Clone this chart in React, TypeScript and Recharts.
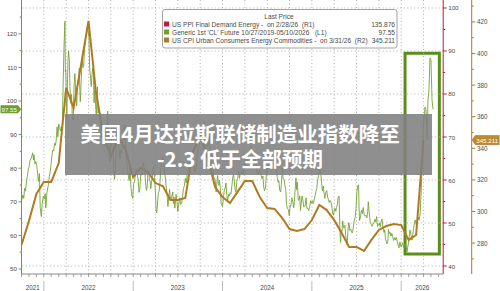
import React from 'react';
import { LineChart, Line, XAxis, YAxis, ReferenceLine, ReferenceArea } from 'recharts';

const OIL_COLOR = '#6f9d2d';
const CPI_COLOR = '#b07a22';
const PPI_COLOR = '#c4173f';
const BOX_COLOR = '#5b8d1b';
const GRID_COLOR = '#b0b0b0';
const TEXT_COLOR = '#4a4a4a';
const FONT = '"Liberation Sans", Arial, sans-serif';

// Generic 1st 'CL' Future (L1): [time in years, price]
const OIL: [number, number][] = [
  [2021.75, 70.2], [2021.765, 72.0], [2021.775, 71.0], [2021.785, 74.0], [2021.795, 73.2], [2021.805, 75.9],
  [2021.815, 77.5], [2021.825, 79.4], [2021.835, 80.5], [2021.845, 82.3], [2021.86, 83.0], [2021.875, 84.6],
  [2021.885, 82.5], [2021.89, 84.0], [2021.9, 81.3], [2021.91, 82.0], [2021.92, 80.8], [2021.93, 78.4],
  [2021.94, 76.1], [2021.95, 78.4], [2021.96, 68.2], [2021.972, 65.6], [2021.982, 69.5], [2021.995, 71.7],
  [2022.005, 70.9], [2022.015, 72.4], [2022.022, 68.2], [2022.035, 72.8], [2022.052, 75.2], [2022.061, 77.5],
  [2022.071, 78.9], [2022.081, 81.2], [2022.091, 83.8], [2022.1, 85.4], [2022.11, 85.1], [2022.12, 87.4],
  [2022.129, 86.8], [2022.138, 88.2], [2022.148, 92.3], [2022.157, 89.4], [2022.167, 93.1], [2022.177, 92.1],
  [2022.187, 91.1], [2022.196, 92.4], [2022.206, 91.6], [2022.215, 103.4], [2022.225, 115.7], [2022.236, 123.7],
  [2022.241, 108.7], [2022.245, 109.3], [2022.252, 100.6], [2022.258, 95.0], [2022.264, 104.9], [2022.27, 111.8],
  [2022.277, 114.9], [2022.285, 112.3], [2022.292, 104.3], [2022.302, 99.3], [2022.31, 101.9], [2022.318, 96.2],
  [2022.329, 94.3], [2022.338, 104.3], [2022.348, 108.2], [2022.357, 102.1], [2022.367, 98.5], [2022.377, 104.7],
  [2022.387, 105.4], [2022.397, 109.8], [2022.403, 103.1], [2022.408, 99.8], [2022.418, 105.7], [2022.428, 112.4],
  [2022.437, 109.9], [2022.445, 110.3], [2022.455, 115.1], [2022.465, 118.5], [2022.475, 119.4], [2022.488, 122.1],
  [2022.497, 120.7], [2022.505, 118.9], [2022.513, 109.6], [2022.521, 107.6], [2022.53, 104.3], [2022.545, 109.8],
  [2022.555, 108.4], [2022.562, 99.5], [2022.572, 104.4], [2022.58, 98.5], [2022.587, 95.8], [2022.6, 104.2],
  [2022.606, 96.4], [2022.615, 97.6], [2022.625, 96.8], [2022.632, 94.4], [2022.64, 90.7], [2022.649, 89.0],
  [2022.657, 90.8], [2022.665, 88.1], [2022.677, 86.5], [2022.687, 90.5], [2022.697, 92.5], [2022.707, 93.1],
  [2022.715, 97.0], [2022.722, 89.6], [2022.73, 86.9], [2022.74, 81.9], [2022.75, 88.5], [2022.757, 88.5],
  [2022.765, 85.1], [2022.775, 84.5], [2022.785, 78.7], [2022.792, 76.7], [2022.8, 79.5], [2022.81, 86.5],
  [2022.822, 92.6], [2022.83, 91.1], [2022.84, 85.6], [2022.852, 82.8], [2022.86, 85.3], [2022.87, 84.6],
  [2022.88, 87.9], [2022.89, 88.9], [2022.899, 92.6], [2022.908, 88.9], [2022.918, 85.8], [2022.928, 81.6],
  [2022.937, 80.1], [2022.946, 77.9], [2022.955, 76.3], [2022.965, 80.6], [2022.975, 74.3], [2022.985, 72.0],
  [2022.995, 71.0], [2023.005, 75.4], [2023.015, 76.0], [2023.025, 78.3], [2023.033, 79.6], [2023.042, 78.4],
  [2023.055, 76.9], [2023.065, 72.8], [2023.075, 73.8], [2023.085, 78.4], [2023.095, 77.9], [2023.104, 79.5],
  [2023.114, 81.6], [2023.122, 80.1], [2023.129, 79.7], [2023.138, 75.9], [2023.147, 73.4], [2023.156, 74.1],
  [2023.165, 78.5], [2023.175, 79.1], [2023.183, 76.3], [2023.19, 76.2], [2023.197, 73.9], [2023.207, 76.3],
  [2023.215, 77.6], [2023.223, 79.7], [2023.23, 80.5], [2023.24, 76.7], [2023.25, 72.3], [2023.257, 67.6],
  [2023.263, 66.7], [2023.272, 69.3], [2023.282, 72.8], [2023.291, 73.2], [2023.3, 75.7], [2023.31, 80.4],
  [2023.32, 81.5], [2023.332, 83.3], [2023.342, 82.4], [2023.352, 78.8], [2023.36, 77.4], [2023.37, 74.3],
  [2023.38, 71.7], [2023.389, 68.6], [2023.398, 71.3], [2023.408, 73.7], [2023.416, 70.9], [2023.425, 70.8],
  [2023.433, 71.7], [2023.443, 72.9], [2023.45, 69.5], [2023.458, 71.4], [2023.466, 68.1], [2023.48, 72.2],
  [2023.49, 70.2], [2023.5, 67.1], [2023.51, 69.3], [2023.521, 71.2], [2023.53, 69.2], [2023.543, 69.6],
  [2023.553, 71.8], [2023.563, 73.9], [2023.573, 74.8], [2023.584, 77.0], [2023.595, 75.6], [2023.605, 78.7],
  [2023.615, 79.6], [2023.625, 80.6], [2023.635, 81.8], [2023.645, 82.9], [2023.658, 84.4], [2023.668, 80.4],
  [2023.678, 81.3], [2023.687, 78.9], [2023.695, 79.4], [2023.705, 80.1], [2023.715, 83.6], [2023.725, 85.6],
  [2023.732, 86.7], [2023.742, 87.5], [2023.752, 88.8], [2023.759, 90.8], [2023.769, 91.5], [2023.779, 89.7],
  [2023.792, 93.7], [2023.8, 89.2], [2023.807, 84.2], [2023.817, 82.8], [2023.825, 86.4], [2023.835, 87.7],
  [2023.843, 86.7], [2023.852, 89.4], [2023.86, 85.5], [2023.868, 85.3], [2023.876, 82.3], [2023.885, 81.0],
  [2023.893, 80.5], [2023.9, 77.4], [2023.908, 77.2], [2023.918, 76.4], [2023.929, 72.9], [2023.937, 75.9],
  [2023.945, 77.8], [2023.952, 75.5], [2023.959, 74.9], [2023.966, 76.4], [2023.975, 74.1], [2023.985, 69.3],
  [2024.0, 68.6], [2024.012, 71.6], [2024.022, 73.9], [2024.03, 74.0], [2024.039, 75.6], [2024.048, 71.8],
  [2024.058, 70.4], [2024.068, 72.2], [2024.077, 71.8], [2024.085, 72.7], [2024.095, 72.4], [2024.105, 74.8],
  [2024.115, 77.4], [2024.123, 78.0], [2024.13, 76.8], [2024.14, 73.8], [2024.151, 72.8], [2024.16, 76.2],
  [2024.17, 77.0], [2024.181, 79.2], [2024.19, 77.0], [2024.2, 78.6], [2024.214, 78.5], [2024.224, 79.9],
  [2024.234, 78.0], [2024.244, 79.7], [2024.254, 81.0], [2024.262, 83.5], [2024.269, 83.5], [2024.278, 81.6],
  [2024.288, 83.2], [2024.296, 85.4], [2024.305, 85.2], [2024.315, 86.9], [2024.325, 85.5], [2024.334, 85.7],
  [2024.344, 82.7], [2024.354, 83.4], [2024.364, 82.8], [2024.374, 81.9], [2024.385, 79.0], [2024.394, 78.1],
  [2024.402, 78.4], [2024.412, 79.3], [2024.422, 78.7], [2024.432, 77.9], [2024.442, 76.9], [2024.452, 77.7],
  [2024.462, 74.2], [2024.47, 73.3], [2024.48, 74.1], [2024.49, 77.7], [2024.5, 79.9], [2024.51, 80.3],
  [2024.523, 82.2], [2024.532, 81.5], [2024.54, 81.5], [2024.55, 83.4], [2024.565, 83.2], [2024.574, 81.4],
  [2024.582, 80.8], [2024.592, 82.8], [2024.603, 78.6], [2024.612, 77.5], [2024.622, 75.8], [2024.63, 76.3],
  [2024.64, 73.5], [2024.65, 72.9], [2024.659, 75.2], [2024.669, 80.1], [2024.678, 76.9], [2024.688, 76.7],
  [2024.699, 74.8], [2024.708, 73.6], [2024.716, 69.2], [2024.726, 68.1], [2024.736, 67.7], [2024.748, 65.8],
  [2024.757, 69.0], [2024.765, 68.7], [2024.775, 71.2], [2024.782, 70.6], [2024.789, 69.7], [2024.797, 68.2],
  [2024.805, 70.2], [2024.813, 73.7], [2024.822, 77.1], [2024.83, 73.6], [2024.838, 75.8], [2024.847, 70.4],
  [2024.855, 70.7], [2024.865, 71.8], [2024.872, 67.4], [2024.88, 69.5], [2024.89, 71.7], [2024.9, 70.4],
  [2024.91, 68.4], [2024.918, 68.7], [2024.926, 69.0], [2024.935, 71.2], [2024.945, 68.0], [2024.955, 68.1],
  [2024.965, 67.4], [2024.975, 68.4], [2024.985, 70.3], [2024.995, 69.6], [2025.005, 70.3], [2025.015, 69.5],
  [2025.025, 70.6], [2025.035, 71.7], [2025.045, 73.1], [2025.055, 74.0], [2025.065, 76.6], [2025.075, 77.8],
  [2025.085, 78.8], [2025.093, 80.0], [2025.102, 77.9], [2025.11, 75.4], [2025.118, 73.2], [2025.128, 74.7],
  [2025.137, 72.5], [2025.146, 71.0], [2025.155, 72.8], [2025.167, 73.3], [2025.176, 71.4], [2025.185, 70.7],
  [2025.195, 69.8], [2025.205, 70.4], [2025.215, 69.8], [2025.225, 68.3], [2025.233, 66.5], [2025.241, 66.0],
  [2025.25, 67.2], [2025.258, 68.1], [2025.267, 67.2], [2025.276, 68.3], [2025.285, 69.1], [2025.295, 71.5],
  [2025.305, 71.7], [2025.313, 61.9], [2025.321, 57.9], [2025.329, 61.5], [2025.337, 61.2], [2025.345, 64.3],
  [2025.354, 62.3], [2025.362, 62.3], [2025.37, 63.0], [2025.378, 60.2], [2025.387, 58.3], [2025.395, 57.1],
  [2025.403, 61.0], [2025.41, 63.7], [2025.417, 63.7], [2025.425, 61.5], [2025.435, 61.9], [2025.445, 60.9],
  [2025.455, 60.8], [2025.465, 62.5], [2025.475, 64.6], [2025.484, 65.3], [2025.494, 68.0], [2025.504, 73.0],
  [2025.513, 74.8], [2025.523, 75.0], [2025.528, 68.5], [2025.534, 64.4], [2025.544, 65.5], [2025.555, 67.5],
  [2025.565, 66.5], [2025.575, 68.3], [2025.585, 66.2], [2025.595, 65.7], [2025.605, 66.0], [2025.615, 65.2],
  [2025.625, 67.0], [2025.632, 70.0], [2025.64, 67.3], [2025.648, 65.0], [2025.655, 63.9], [2025.665, 63.2],
  [2025.675, 62.7], [2025.685, 63.4], [2025.695, 63.7], [2025.705, 64.8], [2025.715, 64.0], [2025.725, 65.6],
  [2025.735, 62.7], [2025.745, 63.0], [2025.755, 63.7], [2025.765, 62.6], [2025.775, 64.1], [2025.785, 64.9],
  [2025.795, 62.4], [2025.808, 60.9], [2025.816, 61.7], [2025.824, 58.9], [2025.833, 58.3], [2025.842, 57.5],
  [2025.85, 58.2], [2025.858, 61.8], [2025.866, 60.5], [2025.875, 60.9], [2025.885, 59.8], [2025.895, 60.6],
  [2025.905, 59.6], [2025.915, 58.5], [2025.925, 59.3], [2025.935, 58.6], [2025.945, 59.5], [2025.955, 58.2],
  [2025.965, 57.1], [2025.975, 56.3], [2025.985, 58.0], [2026.0, 56.5], [2026.015, 57.8], [2026.031, 56.3],
  [2026.048, 57.5], [2026.065, 55.1], [2026.082, 58.0], [2026.099, 61.6], [2026.11, 60.0], [2026.121, 58.6],
  [2026.138, 62.0], [2026.155, 64.6], [2026.171, 63.0], [2026.188, 65.5], [2026.199, 64.5], [2026.211, 66.1],
  [2026.222, 72.0], [2026.233, 80.4], [2026.244, 90.5], [2026.255, 94.3], [2026.266, 98.2], [2026.278, 97.3],
  [2026.289, 88.4], [2026.3, 100.3], [2026.311, 103.3], [2026.322, 112.8], [2026.333, 112.2], [2026.345, 100.3],
  [2026.356, 97.55],
];
const OIL_LAST = 97.55;

// US CPI Urban Consumers Energy Commodities (R2), month-end values from Sep 2021
const CPI_FIRST_YEAR = 2021;
const CPI_FIRST_MONTH = 9;
const CPI_VALUES = [
  278.8, 294.0, 311.1, 318.7,
  318.7, 330.7, 378.2, 365.5, 392.7, 420.6, 375.6, 348.4, 334.5, 347.2, 338.9, 321.8,
  327.5, 325.0, 318.0, 316.0, 307.3, 307.3, 308.5, 337.7, 347.2, 334.5, 315.5, 309.2,
  305.4, 312.3, 319.3, 319.3, 309.2, 302.2, 301.6, 295.9, 288.9, 287.7, 288.9, 294.6,
  304.1, 300.9, 294.6, 286.4, 277.6, 277.6, 275.0, 282.0, 288.3, 290.8, 292.1, 291.4,
  282.0, 285.1, 345.211,
];
const CPI_LAST = 345.211;

const X_DOMAIN: [number, number] = [2021.75, 2026.47];
const L1_DOMAIN: [number, number] = [48.51, 130.06];
const R1_DOMAIN: [number, number] = [38.14, 101.86];
const R2_DOMAIN: [number, number] = [260.44, 433.86];

const L1_TICKS = [50, 55, 60, 65, 70, 75, 80, 85, 90, 95, OIL_LAST, 100, 105, 110, 115, 120, 125];
const R1_TICKS = [40, 45, 50, 55, 60, 65, 70, 75, 80, 85, 90, 95, 100];
const R1_GRID = [40, 50, 60, 70, 80, 90, 100];
const R2_TICKS = [270, 280, 290, 300, 310, 320, 330, 340, CPI_LAST, 350, 360, 370, 380, 390, 400, 410, 420, 430];
const QUARTER_LINES = [
  2022, 2022.25, 2022.5, 2022.75, 2023, 2023.25, 2023.5, 2023.75, 2024, 2024.25, 2024.5, 2024.75,
  2025, 2025.25, 2025.5, 2025.75, 2026, 2026.25,
];
const YEARS = [2021, 2022, 2023, 2024, 2025, 2026];

const HIGHLIGHT = { x1: 2026.043, x2: 2026.427, y1: 54.46, y2: 114.2 };

const LEGEND_TITLE = 'Last Price';
const LEGEND = [
  { color: PPI_COLOR, text: 'US PPI Final Demand Energy -  on 2/28/26  (R1)', value: '135.876' },
  { color: OIL_COLOR, text: "Generic 1st 'CL' Future 10/27/2019-05/10/2026   (L1)", value: '97.55' },
  { color: CPI_COLOR, text: 'US CPI Urban Consumers Energy Commodities -  on 3/31/26  (R2)', value: '345.211' },
];
const TITLE_LINES = ['美国4月达拉斯联储制造业指数降至', '-2.3 低于全部预期'];

const oilData = OIL.map(([t, v]) => ({ t, v }));
const cpiData = CPI_VALUES.map((v, i) => ({ t: CPI_FIRST_YEAR + (CPI_FIRST_MONTH + i) / 12, v }));

// x-axis ticks: month starts plus the centre of each visible year
const MONTH_TICKS: number[] = [];
for (let y = 2021; y <= 2026; y++) {
  for (let m = 0; m < 12; m++) {
    const t = y + m / 12;
    if (t >= X_DOMAIN[0] - 1e-9 && t <= X_DOMAIN[1]) MONTH_TICKS.push(t);
  }
}
const YEAR_LABEL_MAP = new Map<string, string>();
YEARS.forEach((y) => {
  const c = (Math.max(y, X_DOMAIN[0]) + Math.min(y + 1, X_DOMAIN[1])) / 2;
  YEAR_LABEL_MAP.set(c.toFixed(4), String(y));
});
const X_TICKS = Array.from(
  new Set([...MONTH_TICKS.map((t) => t.toFixed(4)), ...Array.from(YEAR_LABEL_MAP.keys())])
)
  .map(Number)
  .sort((a, b) => a - b);

const XTick = (props: any) => {
  const { x, y, payload } = props;
  const v = Number(payload.value);
  const mIdx = Math.round(v * 12);
  const isMonth = Math.abs(v * 12 - mIdx) < 1e-3;
  const label = YEAR_LABEL_MAP.get(v.toFixed(4));
  return (
    <g>
      {isMonth && <line x1={x} x2={x} y1={y} y2={y + 3} stroke="#888" strokeWidth={0.8} />}
      {isMonth && mIdx % 12 === 0 && <line x1={x} x2={x} y1={y + 7} y2={y + 17} stroke="#aaa" strokeWidth={0.8} />}
      {label && (
        <text x={x} y={y + 13} textAnchor="middle" dominantBaseline="central" fontSize={6.3} fill={TEXT_COLOR} fontFamily={FONT}>
          {label}
        </text>
      )}
    </g>
  );
};

const LeftTick = (props: any) => {
  const { x, y, payload } = props;
  const v = Number(payload.value);
  if (v === OIL_LAST) {
    return (
      <g>
        <path d={`M${x - 21},${y - 4} h17.5 l3.2,4 l-3.2,4 h-17.5 z`} fill={OIL_COLOR} />
        <text x={x - 12.3} y={y + 0.3} textAnchor="middle" dominantBaseline="central" fontSize={6.2} fill="#fff" fontFamily={FONT}>
          {OIL_LAST}
        </text>
      </g>
    );
  }
  const major = v % 10 === 0;
  return (
    <g>
      <line x1={x - (major ? 3 : 1.8)} x2={x} y1={y} y2={y} stroke={OIL_COLOR} strokeWidth={1} />
      {major && (
        <text x={x - 4.5} y={y} textAnchor="end" dominantBaseline="central" fontSize={6.2} fill={TEXT_COLOR} fontFamily={FONT}>
          {v}
        </text>
      )}
    </g>
  );
};

const R1Tick = (props: any) => {
  const { x, y, payload } = props;
  const v = Number(payload.value);
  const major = v % 10 === 0;
  return (
    <g>
      <line x1={x} x2={x + (major ? 3.5 : 2)} y1={y} y2={y} stroke={PPI_COLOR} strokeWidth={1} />
      {major && (
        <text x={x + 5} y={y} textAnchor="start" dominantBaseline="central" fontSize={6.2} fill={TEXT_COLOR} fontFamily={FONT}>
          {v}
        </text>
      )}
    </g>
  );
};

const R2Tick = (props: any) => {
  const { x, y, payload } = props;
  const v = Number(payload.value);
  if (v === CPI_LAST) {
    return (
      <g>
        <path d={`M${x + 0.5},${y} l3,-4.6 h24 v9.2 h-24 z`} fill="#c08a2c" stroke="#9a6a1c" strokeWidth={0.5} />
        <text x={x + 15.5} y={y + 0.3} textAnchor="middle" dominantBaseline="central" fontSize={6.2} fill="#fff" fontFamily={FONT}>
          {CPI_LAST}
        </text>
      </g>
    );
  }
  const major = v % 20 === 0;
  return (
    <g>
      <line x1={x} x2={x + (major ? 3.5 : 2)} y1={y} y2={y} stroke={CPI_COLOR} strokeWidth={1} />
      {major && (
        <text x={x + 5.3} y={y} textAnchor="start" dominantBaseline="central" fontSize={6.3} fill={TEXT_COLOR} fontFamily={FONT}>
          {v}
        </text>
      )}
    </g>
  );
};

const Overlay = () => (
  <svg width={500} height={291} style={{ position: 'absolute', left: 0, top: 0, pointerEvents: 'none' }}>
    <rect x={162.5} y={9.5} width={234.5} height={38.5} rx={2.5} fill="#fff" stroke="#8a8a8a" strokeWidth={0.8} />
    <text x={279} y={16} textAnchor="middle" dominantBaseline="central" fontSize={6.6} fill={TEXT_COLOR} fontFamily={FONT}>
      {LEGEND_TITLE}
    </text>
    {LEGEND.map((item, i) => (
      <g key={item.text}>
        <rect x={164} y={21.5 + i * 8} width={5} height={5} fill={item.color} />
        <text x={172} y={24 + i * 8} dominantBaseline="central" fontSize={6.6} fill={TEXT_COLOR} fontFamily={FONT} style={{ whiteSpace: 'pre' }}>
          {item.text}
        </text>
        <text x={395} y={24 + i * 8} textAnchor="end" dominantBaseline="central" fontSize={6.6} fill={TEXT_COLOR} fontFamily={FONT}>
          {item.value}
        </text>
      </g>
    ))}
    <rect x={65} y={114} width={367} height={61} fill="#7f7f7f" fillOpacity={0.88} />
    {TITLE_LINES.map((line, i) => (
      <text
        key={line}
        x={240}
        y={132.5 + i * 25.5}
        textAnchor="middle"
        dominantBaseline="central"
        fontSize={20.5}
        fontWeight={700}
        fill="#fff"
        fontFamily='"Noto Sans CJK SC", "Noto Sans", sans-serif'
      >
        {line}
      </text>
    ))}
  </svg>
);

export default function App() {
  return (
    <div style={{ position: 'absolute', left: 0, top: 0, width: 500, height: 291, background: '#fff', overflow: 'hidden' }}>
      <LineChart width={500} height={291} margin={{ top: 0, right: 0, bottom: 0, left: 0 }}>
        <XAxis
          dataKey="t"
          type="number"
          domain={X_DOMAIN}
          allowDataOverflow
          ticks={X_TICKS}
          interval={0}
          tick={XTick}
          tickLine={false}
          tickSize={0}
          tickMargin={0}
          height={17}
          axisLine={{ stroke: '#888', strokeWidth: 1 }}
        />
        <YAxis
          yAxisId="l1"
          orientation="left"
          type="number"
          domain={L1_DOMAIN}
          allowDataOverflow
          ticks={L1_TICKS}
          interval={0}
          tick={LeftTick}
          tickLine={false}
          tickSize={0}
          tickMargin={0}
          width={21.5}
          axisLine={{ stroke: OIL_COLOR, strokeWidth: 1 }}
        />
        <YAxis
          yAxisId="r1"
          orientation="right"
          type="number"
          domain={R1_DOMAIN}
          allowDataOverflow
          ticks={R1_TICKS}
          interval={0}
          tick={R1Tick}
          tickLine={false}
          tickSize={0}
          tickMargin={0}
          width={28.5}
          axisLine={{ stroke: PPI_COLOR, strokeWidth: 1 }}
        />
        <YAxis
          yAxisId="r2"
          orientation="right"
          type="number"
          domain={R2_DOMAIN}
          allowDataOverflow
          ticks={R2_TICKS}
          interval={0}
          tick={R2Tick}
          tickLine={false}
          tickSize={0}
          tickMargin={0}
          width={28.3}
          axisLine={{ stroke: CPI_COLOR, strokeWidth: 1 }}
        />
        {R1_GRID.map((v) => (
          <ReferenceLine key={`h${v}`} yAxisId="r1" y={v} stroke={GRID_COLOR} strokeDasharray="1 2.5" strokeWidth={1} />
        ))}
        {QUARTER_LINES.map((q) => (
          <ReferenceLine key={`v${q}`} yAxisId="l1" x={q} stroke={GRID_COLOR} strokeDasharray="1 2.5" strokeWidth={1} />
        ))}
        <Line
          yAxisId="l1"
          data={oilData}
          dataKey="v"
          type="linear"
          stroke="#76a334"
          strokeOpacity={0.9}
          strokeWidth={1}
          dot={false}
          activeDot={false}
          isAnimationActive={false}
        />
        <Line
          yAxisId="r2"
          data={cpiData}
          dataKey="v"
          type="linear"
          stroke={CPI_COLOR}
          strokeWidth={2}
          dot={false}
          activeDot={false}
          isAnimationActive={false}
        />
        <ReferenceArea
          yAxisId="l1"
          x1={HIGHLIGHT.x1}
          x2={HIGHLIGHT.x2}
          y1={HIGHLIGHT.y1}
          y2={HIGHLIGHT.y2}
          fill="none"
          fillOpacity={0}
          stroke={BOX_COLOR}
          strokeWidth={3}
        />
      </LineChart>
      <Overlay />
    </div>
  );
}
